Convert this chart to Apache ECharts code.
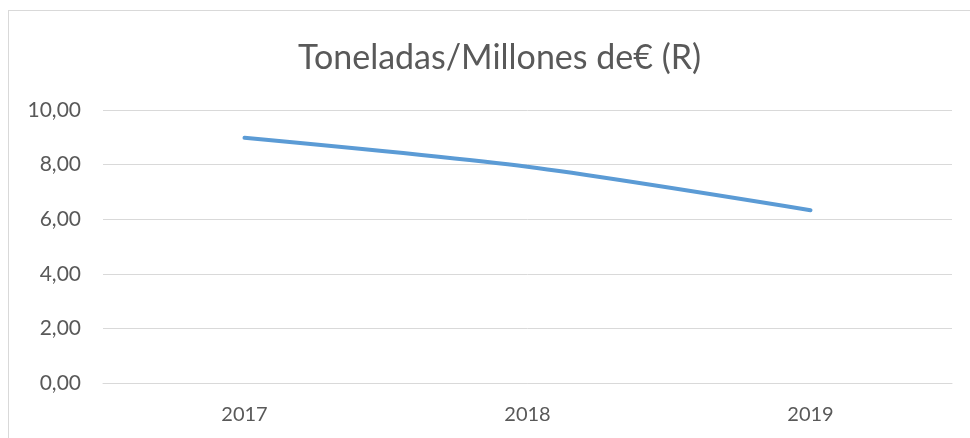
<!DOCTYPE html>
<html><head><meta charset="utf-8">
<script src="https://cdn.jsdelivr.net/npm/echarts@6/dist/echarts.min.js"></script>
<style>html,body{margin:0;padding:0;background:#fff}#c{width:970px;height:438px;position:relative}
#b{position:absolute;left:8px;top:10px;width:980px;height:440px;border:1px solid #d9d9d9;box-sizing:border-box;pointer-events:none}</style>
</head><body><div id="c"></div><div id="b"></div>
<script>
const title = 'Toneladas/Millones de€ (R)';
const categories = ['2017', '2018', '2019'];
const values = [8.98, 7.92, 6.33];
const yTicks = [0, 2, 4, 6, 8, 10];

const chart = echarts.init(document.getElementById('c'));
chart.setOption({
  animation: false,
  title: {text: title, left: 293, top: 36, textStyle: {fontFamily: 'Lato', fontWeight: 'normal', fontSize: 34, color: '#595959'}},
  grid: {left: 103, right: 18, top: 110, bottom: 55},
  xAxis: {type: 'category', data: categories, boundaryGap: true,
    axisLine: {lineStyle: {color: '#d9d9d9'}}, axisTick: {show: false},
    axisLabel: {fontFamily: 'Lato', fontSize: 20, color: '#595959', margin: 22}},
  yAxis: {type: 'value', min: yTicks[0], max: yTicks[yTicks.length-1], interval: 2,
    axisLine: {show: false}, axisTick: {show: false},
    splitLine: {lineStyle: {color: '#d9d9d9'}},
    axisLabel: {fontFamily: 'Lato', fontSize: 21, color: '#595959', margin: 22,
      formatter: v => v.toFixed(2).replace('.', ',')}},
  series: [{type: 'line', data: values, smooth: 0.25, symbol: 'none',
    lineStyle: {color: '#5B9BD5', width: 4, cap: 'round'}}]
});
</script></body></html>
